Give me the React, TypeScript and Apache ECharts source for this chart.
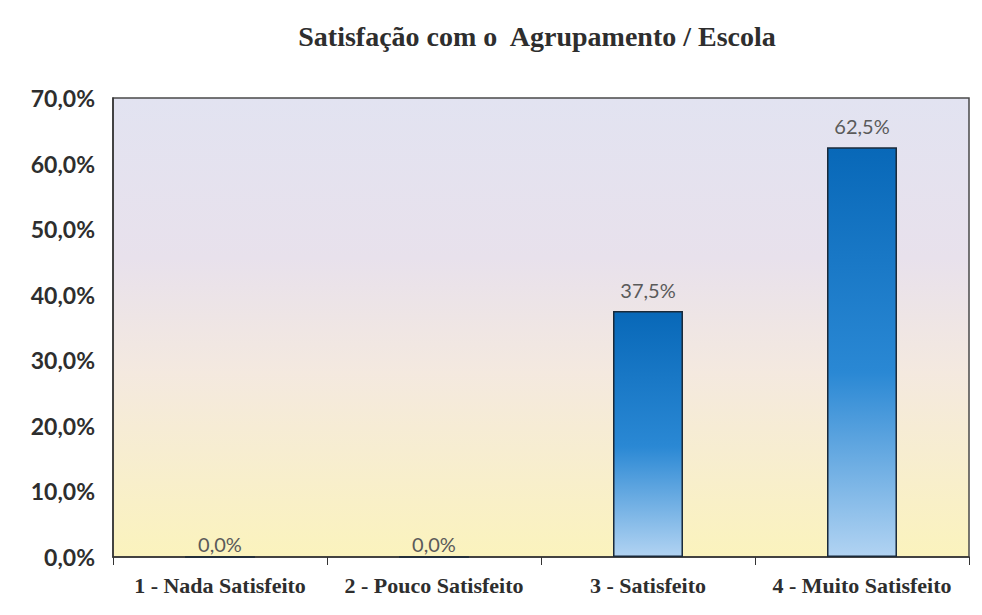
import React, { useEffect, useRef } from "react";
import * as echarts from "echarts";

const titleText = "Satisfação com o  Agrupamento / Escola";
const categories = ["1 - Nada Satisfeito", "2 - Pouco Satisfeito", "3 - Satisfeito", "4 - Muito Satisfeito"];
const values = [0.0, 0.0, 37.5, 62.5];
const yMin = 0;
const yMax = 70;
const yStep = 10;

const fmt = (v: number) => v.toFixed(1).replace(".", ",") + "%";

export default function App() {
  const ref = useRef<HTMLDivElement>(null);
  useEffect(() => {
    if (!ref.current) return;
    const chart = echarts.init(ref.current, null, { renderer: "svg" });
    const seriesData = values.map((v) => (v === 0 ? { value: v, label: { distance: 2 } } : { value: v }));
    chart.setOption({
      animation: false,
      backgroundColor: "#ffffff",
      title: {
        text: titleText,
        left: 532,
        textAlign: "center",
        top: 17,
        textStyle: { fontFamily: "Liberation Serif", fontWeight: "bold", fontSize: 28, color: "#2e2e2e" },
      },
      grid: {
        left: 113,
        right: 13,
        top: 98,
        bottom: 58,
        show: true,
        borderColor: "#4a4a4a",
        borderWidth: 1.5,
        backgroundColor: new echarts.graphic.LinearGradient(0, 0, 0, 1, [
          { offset: 0, color: "#e2e3f1" },
          { offset: 0.35, color: "#e8e1ec" },
          { offset: 0.6, color: "#f4e9df" },
          { offset: 1, color: "#fbf3bd" },
        ]),
      },
      xAxis: {
        type: "category",
        data: categories,
        axisLine: { show: true, lineStyle: { color: "#333", width: 1.5 } },
        axisTick: { show: true, length: 8, interval: 0, lineStyle: { color: "#333" } },
        axisLabel: {
          interval: 0,
          margin: 17,
          fontFamily: "Liberation Serif",
          fontWeight: "bold",
          fontSize: 22,
          color: "#2e2e2e",
        },
      },
      yAxis: {
        type: "value",
        min: yMin,
        max: yMax,
        interval: yStep,
        splitLine: { show: false },
        axisLine: { show: true, lineStyle: { color: "#333", width: 1.5 } },
        axisTick: { show: false },
        axisLabel: {
          formatter: (v: number) => fmt(v),
          margin: 18,
          fontFamily: "Lato",
          fontWeight: "bold",
          fontSize: 23,
          color: "#2e2e2e",
        },
      },
      series: [
        {
          type: "bar",
          data: seriesData,
          barWidth: "32.7%",
          itemStyle: {
            borderColor: "#1a2a3a",
            borderWidth: 1.5,
            color: new echarts.graphic.LinearGradient(0, 0, 0, 1, [
              { offset: 0, color: "#0868b8" },
              { offset: 0.55, color: "#2a88d4" },
              { offset: 1, color: "#b1d3f2" },
            ]),
          },
          label: {
            show: true,
            position: "top",
            distance: 11,
            formatter: (p: any) => fmt(p.value),
            fontFamily: "Lato",
            fontSize: 20,
            color: "#5a5a5a",
          },
        },
      ],
    });
    return () => chart.dispose();
  }, []);
  return <div ref={ref} style={{ position: "absolute", left: 0, top: 0, width: 982, height: 615 }} />;
}
